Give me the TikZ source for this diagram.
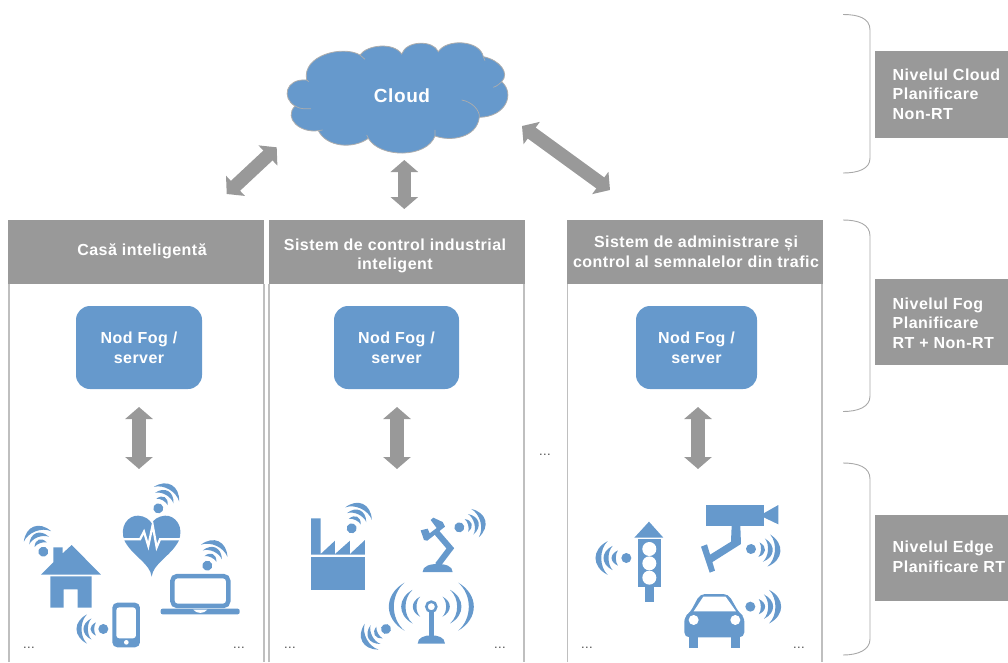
\documentclass[tikz,border=0pt]{standalone}
\usepackage{fontspec}
\setmainfont{Liberation Sans}[LetterSpace=3]
\usetikzlibrary{arrows.meta}
\definecolor{blu}{HTML}{6699CC}
\definecolor{gry}{HTML}{999999}
\definecolor{lne}{HTML}{BFBFBF}
\tikzset{
  bigarrow/.style={draw=gry,line width=13.5pt,{Triangle[length=12pt,width=27pt,fill=gry]}-{Triangle[length=12pt,width=27pt,fill=gry]}},
  headbox/.style={fill=gry,draw=none,minimum height=64pt,inner sep=0pt},
  headtext/.style={text=white,align=center,font=\fontsize{16}{19.5}\selectfont\bfseries,inner sep=0pt},
  panelline/.style={draw=lne,line width=1.5pt},
  fogbox/.style={fill=blu,rounded corners=14pt,minimum height=83pt,text=white,align=center,font=\fontsize{16}{20}\selectfont\bfseries,inner sep=0pt},
  sidebox/.style={fill=gry,anchor=north west,minimum width=133pt,minimum height=86.5pt,inner sep=0pt},
  sidetext/.style={anchor=west,text=white,align=left,font=\fontsize{16}{19.5}\selectfont\bfseries,inner sep=0pt},
  brace/.style={draw=gry!85,line width=.9pt},
  dots/.style={anchor=base,text=black!70,font=\fontsize{13}{13}\selectfont,inner sep=0pt},
  icon/.style={fill=blu,draw=none},
  iconhole/.style={fill=white,draw=none}
}
\newcommand{\crescent}[2]{%
 \fill[blu] ({.669*#1},{-.602*#1}) .. controls ({1.11*#1+.667*#2},{-.3*#1}) and ({1.11*#1+.667*#2},{.3*#1}) .. ({.669*#1},{.602*#1}) .. controls ({1.11*#1-.667*#2},{.3*#1}) and ({1.11*#1-.667*#2},{-.3*#1}) .. cycle;}
\newcommand{\wifi}[4]{%
 \begin{scope}[shift={(#1,#2)},rotate=#3,scale=#4]
  \fill[blu] (0,0) circle (15/#4);
  \crescent{33}{11}\crescent{53}{13}\crescent{73}{15}
 \end{scope}}
\begin{document}
\begin{tikzpicture}[x=1pt,y=-1pt]
\useasboundingbox (0,0) rectangle (1008,662);
% cloud
\begin{scope}[shift={(210,30)},x=.3333pt,y=-.3333pt]
 \path[fill=blu,draw=gry!80,line width=.8pt]
  (290,150) .. controls (275,75) and (400,45) .. (450,75)
  .. controls (470,45) and (550,35) .. (575,72)
  .. controls (590,30) and (670,30) .. (685,65)
  .. controls (710,25) and (810,30) .. (820,80)
  .. controls (870,90) and (900,130) .. (875,155)
  .. controls (915,190) and (890,260) .. (808,262)
  .. controls (800,325) and (720,335) .. (675,318)
  .. controls (650,385) and (510,385) .. (475,325)
  .. controls (430,358) and (350,352) .. (325,302)
  .. controls (270,310) and (220,265) .. (255,228)
  .. controls (215,205) and (225,145) .. (290,150) -- cycle;
 \draw[gry!80,line width=.7pt] (755,210) .. controls (785,215) and (810,240) .. (808,262);
 \draw[gry!80,line width=.7pt] (850,172) .. controls (862,168) and (870,160) .. (875,155);
 \draw[gry!80,line width=.7pt] (255,228) .. controls (270,238) and (290,237) .. (303,236);
 \draw[gry!80,line width=.7pt] (450,75) -- (465,88) (820,80) -- (825,92) (325,302) -- (338,300) (475,325) -- (470,315) (675,318) -- (675,300) (290,150) -- (296,155);
\end{scope}
\node[text=white,font=\fontsize{19}{19}\selectfont\bfseries,inner sep=0pt] (cloud) at (402,96) {Cloud};
\coordinate (cl1) at (276.7,147.3);\coordinate (pa1) at (226.7,194);
\coordinate (cl2) at (404.3,160);\coordinate (pa2) at (404.3,209);
\coordinate (cl3) at (522,126);\coordinate (pa3) at (610,190);
\draw[bigarrow] (cl1) -- (pa1);
\draw[bigarrow] (cl2) -- (pa2);
\draw[bigarrow] (cl3) -- (pa3);
% panels
\draw[panelline] (9,662) -- (9,284) (264,284) -- (264,662);
\draw[panelline] (269,662) -- (269,284) (524,284) -- (524,662);
\draw[panelline] (567.5,662) -- (567.5,284) (822,284) -- (822,662);
\node[headbox,minimum width=256pt] (h1) at (136,252) {};
\node[headbox,minimum width=256pt] (h2) at (396.5,252) {};
\node[headbox,minimum width=256pt] (h3) at (695,252) {};
\node[headtext] (t1) at (142,251) {Casă inteligentă};
\node[headtext] (t2) at (395,256) {Sistem de control industrial\\inteligent};
\node[headtext] (t3) at (696,252) {Sistem de administrare și\\control al semnalelor din trafic};
\node[fogbox,minimum width=126pt] (f1) at (139,347.5) {Nod Fog /\\server};
\node[fogbox,minimum width=125pt] (f2) at (396.5,347.5) {Nod Fog /\\server};
\node[fogbox,minimum width=121pt] (f3) at (696.5,347.5) {Nod Fog /\\server};
\coordinate (f1a) at (139,407);\coordinate (e1a) at (139,469);
\coordinate (f2a) at (397,407);\coordinate (e2a) at (397,469);
\coordinate (f3a) at (698,407);\coordinate (e3a) at (698,469);
\draw[bigarrow] (f1a) -- (e1a);
\draw[bigarrow] (f2a) -- (e2a);
\draw[bigarrow] (f3a) -- (e3a);
\node[dots] (d0) at (545,455) {...};
\node[dots] (d1) at (29,648) {...};\node[dots] (d2) at (239,648) {...};
\node[dots] (d3) at (290,648) {...};\node[dots] (d4) at (500,648) {...};
\node[dots] (d5) at (587,648) {...};\node[dots] (d6) at (799,648) {...};
% side
\node[sidebox] (s1) at (875,51) {};
\node[sidebox] (s2) at (875,278.5) {};
\node[sidebox] (s3) at (875,514.5) {};
\node[sidetext] (st1) at (892.5,94) {Nivelul Cloud\\Planificare\\Non-RT};
\node[sidetext] (st2) at (892.5,323) {Nivelul Fog\\Planificare\\RT + Non-RT};
\node[sidetext] (st3) at (892.5,557) {Nivelul Edge\\Planificare RT};
\draw[brace] (843,14.5) .. controls (858,14.5) and (870,18) .. (870,30) -- (870,158) .. controls (870,169) and (858,173) .. (843,173);
\draw[brace] (843,220) .. controls (858,220) and (870,224) .. (870,236) -- (870,396) .. controls (870,407) and (858,411.5) .. (843,411.5);
\draw[brace] (843,463) .. controls (858,463) and (870,467) .. (870,479) -- (870,639) .. controls (870,650) and (858,655) .. (843,655);
% icons panel 1
\begin{scope}[shift={(0,470)},x=.3333pt,y=-.3333pt]
 \fill[icon] (123,314) -- (160,277) -- (160,232) -- (188,232) -- (188,250) -- (215,225) -- (303,314) -- cycle;
 \fill[icon] (151,319) -- (275,319) -- (275,413) -- (233,413) -- (233,358) -- (191,358) -- (191,413) -- (151,413) -- cycle;
 \wifi{130}{245}{111}{1}
 \fill[icon] (455,320) .. controls (450,280) and (400,260) .. (375,215) .. controls (355,170) and (385,135) .. (415,137) .. controls (435,138) and (450,150) .. (455,160) .. controls (460,150) and (475,138) .. (495,137) .. controls (525,135) and (555,170) .. (535,215) .. controls (510,260) and (460,280) .. (455,320) -- cycle;
 \draw[white,line width=2.2pt] (365,208) -- (420,208) -- (432,185) -- (445,228) -- (458,165) -- (470,232) -- (480,208) -- (545,208);
 \wifi{475}{115}{60}{1}
 \draw[blu,line width=4.5pt,rounded corners=5pt] (517,318) rectangle (685,408);
 \fill[icon,rounded corners=2pt] (482,416) rectangle (719,433);
 \fill[iconhole] (580,419) .. controls (590,432) and (612,432) .. (622,419) -- cycle;
 \wifi{622}{287}{65}{1}
 \fill[icon,rounded corners=5pt] (337,398) rectangle (420,532);
 \fill[iconhole,rounded corners=3pt] (349,412) rectangle (408,505);
 \fill[iconhole] (379,517) circle (7);
 \wifi{310}{477}{180}{1}
\end{scope}
% icons panel 2
\begin{scope}[shift={(270,480)},x=.3333pt,y=-.3333pt]
 \fill[icon] (123,224) -- (123,115) -- (152,115) -- (152,222) -- (195,182) -- (195,222) -- (240,182) -- (240,222) -- (285,180) -- (285,224) -- cycle;
 \fill[icon] (123,232) rectangle (285,330);
 \wifi{245}{145}{65}{1}
 \fill[icon] (458,276) .. controls (458,258) and (480,252) .. (503,252) .. controls (526,252) and (548,258) .. (548,276) -- cycle;
 \draw[blu,line width=6pt] (503,255) -- (541,205) -- (498,155);
 \fill[icon] (452,151) -- (473,146) -- (479,160) -- (500,144) -- (482,120) -- (490,113) -- (518,126) -- (525,140) -- (472,182) -- (462,180) -- cycle;
 \wifi{568}{142}{15}{1}
 \draw[blu,line width=2.6pt] (484,380) circle (15);
 \fill[icon] (476,395) rectangle (492,470);
 \fill[icon] (443,491) .. controls (443,472) and (465,466) .. (484,466) .. controls (503,466) and (525,472) .. (525,491) -- cycle;
 \begin{scope}[shift={(484,380)}]
  \crescent{50}{11}\crescent{84}{13}\crescent{120}{15}
  \begin{scope}[rotate=180]\crescent{50}{11}\crescent{84}{13}\crescent{120}{15}\end{scope}
 \end{scope}
 \wifi{348}{447}{208}{1}
\end{scope}
% icons panel 3
\begin{scope}[shift={(565,480)},x=.3333pt,y=-.3333pt]
 \fill[icon] (208,173) -- (252,125) -- (295,173) -- cycle;
 \fill[icon] (218,177) rectangle (288,322);
 \fill[icon] (240,322) rectangle (266,367);
 \fill[iconhole] (253,207) circle (21);
 \fill[iconhole] (253,250) circle (21);
 \fill[iconhole] (253,293) circle (21);
 \wifi{184}{234}{180}{1.15}
 \fill[icon] (424,75) rectangle (596,138);
 \fill[icon] (596,100) -- (640,75) -- (640,133) -- (596,112) -- cycle;
 \fill[icon] (500,138) -- (526,138) -- (528,192) -- (441,247) -- (432,226) -- (498,185) -- cycle;
 \fill[icon] (408,200) -- (426,193) -- (450,272) -- (434,278) -- cycle;
 \wifi{558}{207}{-5}{1.1}
 \fill[icon] (373,465) rectangle (398,503);
 \fill[icon] (499,465) rectangle (524,503);
 \fill[icon,rounded corners=5pt] (358,472) -- (358,410) -- (375,398) -- (405,342) -- (490,342) -- (522,398) -- (538,410) -- (538,472) -- cycle;
 \fill[iconhole] (386,394) -- (415,350) -- (482,350) -- (513,394) -- cycle;
 \fill[iconhole] (386,420) circle (15);
 \fill[iconhole] (511,420) circle (15);
 \wifi{556}{380}{0}{1.15}
\end{scope}
\end{tikzpicture}
\end{document}
